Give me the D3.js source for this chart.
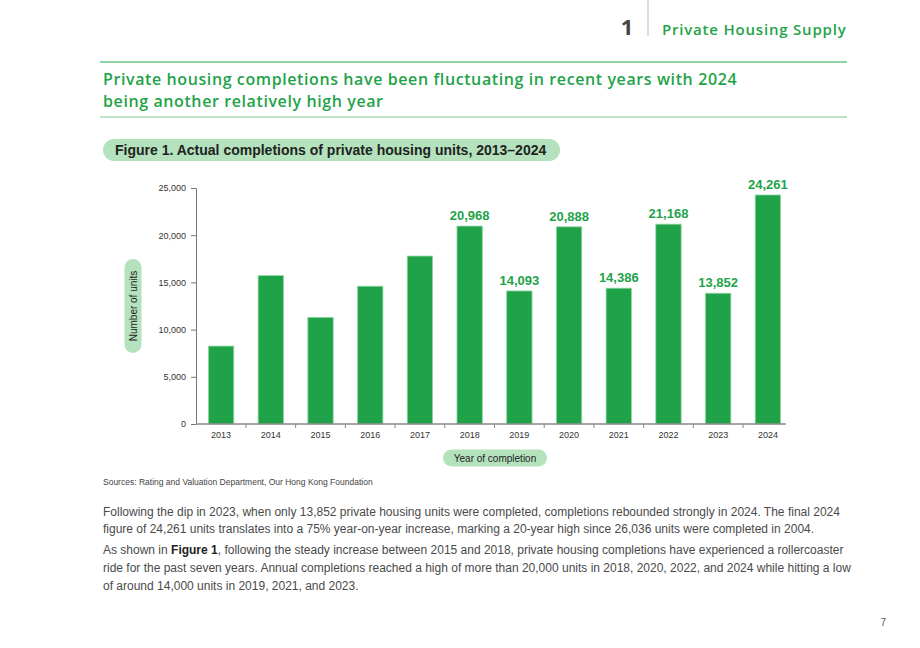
<!DOCTYPE html>
<meta charset="utf-8">
<script src="https://d3js.org/d3.v7.min.js"></script>
<style>
    body { margin: 0; background: #fff; }
    svg { display: block; }
</style>
<div id="page"></div>

<script>
    var width = 920
    var height = 648

    // data
    var years = ["2013", "2014", "2015", "2016", "2017", "2018", "2019", "2020", "2021", "2022", "2023", "2024"]
    var completions = [8254, 15719, 11296, 14595, 17791, 20968, 14093, 20888, 14386, 21168, 13852, 24261]
    var labelled = ["2018", "2019", "2020", "2021", "2022", "2023", "2024"]
    var yTicks = [0, 5000, 10000, 15000, 20000, 25000]

    var green = "#1fa349"
    var sans = "'Liberation Sans', Arial, sans-serif"
    var round = "'Open Sans', 'Noto Sans', sans-serif"

    var svg = d3.select("#page")
        .append("svg")
        .attr("width", width)
        .attr("height", height)

    // header
    svg.append("text")
        .attr("x", 627).attr("y", 35)
        .attr("text-anchor", "middle")
        .attr("font-family", round)
        .attr("font-weight", "bold")
        .attr("font-size", 22)
        .attr("fill", "#444")
        .text("1")
    svg.append("line")
        .attr("x1", 648).attr("x2", 648)
        .attr("y1", 0).attr("y2", 36)
        .attr("stroke", "#bbb")
    svg.append("text")
        .attr("x", 662).attr("y", 35)
        .attr("font-family", round)
        .attr("font-weight", 600)
        .attr("font-size", 15)
        .attr("letter-spacing", 0.8)
        .attr("fill", green)
        .text("Private Housing Supply")

    svg.append("line")
        .attr("x1", 100).attr("x2", 847)
        .attr("y1", 62).attr("y2", 62)
        .attr("stroke", green).attr("stroke-width", 1.2)
    var heading = svg.append("text")
        .attr("font-family", round)
        .attr("font-weight", 600)
        .attr("font-size", 16)
        .attr("letter-spacing", 0.6)
        .attr("fill", green)
    heading.append("tspan").attr("x", 103).attr("y", 85)
        .text("Private housing completions have been fluctuating in recent years with 2024")
    heading.append("tspan").attr("x", 103).attr("y", 107)
        .text("being another relatively high year")
    svg.append("line")
        .attr("x1", 100).attr("x2", 847)
        .attr("y1", 117).attr("y2", 117)
        .attr("stroke", "#7dc98f").attr("stroke-width", 1.2)

    // figure caption pill
    svg.append("rect")
        .attr("x", 103).attr("y", 139)
        .attr("width", 457).attr("height", 22)
        .attr("rx", 11)
        .attr("fill", "#b4e2bd")
    svg.append("text")
        .attr("x", 115).attr("y", 155)
        .attr("font-family", sans)
        .attr("font-weight", "bold")
        .attr("font-size", 14)
        .attr("fill", "#222")
        .text("Figure 1. Actual completions of private housing units, 2013\u20132024")

    // chart
    var x = d3.scaleBand()
        .domain(years)
        .range([196, 793])
        .paddingInner(0.49)
        .paddingOuter(0.25)

    var y = d3.scaleLinear()
        .domain([0, 25000])
        .range([424, 188])

    var yAxis = svg.append("g")
        .attr("transform", "translate(196,0)")
        .call(d3.axisLeft(y).tickValues(yTicks).tickSize(5).tickPadding(5).tickFormat(d3.format(",")))
    yAxis.select(".domain").attr("stroke", "#777")
    yAxis.selectAll(".tick line").attr("stroke", "#777")
    yAxis.selectAll("text")
        .attr("font-family", sans)
        .attr("font-size", 9)
        .attr("fill", "#333")

    svg.append("g")
        .selectAll("rect")
        .data(years)
        .enter()
        .append("rect")
        .attr("x", function (d) { return x(d) })
        .attr("y", function (d, i) { return y(completions[i]) })
        .attr("width", x.bandwidth())
        .attr("height", function (d, i) { return y(0) - y(completions[i]) })
        .attr("fill", "#20a348")
        .attr("stroke", "#8fd6a4")
        .attr("stroke-width", 0.8)

    svg.append("g")
        .selectAll("text")
        .data(years.filter(function (d) { return labelled.indexOf(d) >= 0 }))
        .enter()
        .append("text")
        .attr("x", function (d) { return x(d) + x.bandwidth() / 2 })
        .attr("y", function (d) { return y(completions[years.indexOf(d)]) - 6 })
        .attr("text-anchor", "middle")
        .attr("font-family", sans)
        .attr("font-weight", "bold")
        .attr("font-size", 13)
        .attr("fill", green)
        .text(function (d) { return d3.format(",")(completions[years.indexOf(d)]) })

    // x axis: ticks sit midway between bars
    var step = x.step()
    var xAxis = svg.append("g")
        .attr("transform", "translate(0,424)")
    xAxis.append("line")
        .attr("x1", 196).attr("x2", 786)
        .attr("stroke", "#888").attr("stroke-width", 1.5)
    xAxis.selectAll(".tk")
        .data(years.slice(1))
        .enter()
        .append("line")
        .attr("x1", function (d) { return x(d) - (step - x.bandwidth()) / 2 })
        .attr("x2", function (d) { return x(d) - (step - x.bandwidth()) / 2 })
        .attr("y1", 0).attr("y2", 4)
        .attr("stroke", "#888")
    xAxis.selectAll("text")
        .data(years)
        .enter()
        .append("text")
        .attr("x", function (d) { return x(d) + x.bandwidth() / 2 })
        .attr("y", 14)
        .attr("text-anchor", "middle")
        .attr("font-family", sans)
        .attr("font-size", 9)
        .attr("fill", "#333")
        .text(function (d) { return d })

    // axis title pills
    var yl = svg.append("g").attr("transform", "translate(133,306) rotate(-90)")
    yl.append("rect")
        .attr("x", -47).attr("y", -8.5)
        .attr("width", 94).attr("height", 17)
        .attr("rx", 8.5)
        .attr("fill", "#b4e2bd")
    yl.append("text")
        .attr("y", 3.5)
        .attr("text-anchor", "middle")
        .attr("font-family", sans)
        .attr("font-size", 10)
        .attr("fill", "#222")
        .text("Number of units")

    var xl = svg.append("g").attr("transform", "translate(495,458)")
    xl.append("rect")
        .attr("x", -52).attr("y", -8.5)
        .attr("width", 104).attr("height", 17)
        .attr("rx", 8.5)
        .attr("fill", "#b4e2bd")
    xl.append("text")
        .attr("y", 3.5)
        .attr("text-anchor", "middle")
        .attr("font-family", sans)
        .attr("font-size", 10)
        .attr("fill", "#222")
        .text("Year of completion")

    svg.append("text")
        .attr("x", 103).attr("y", 485)
        .attr("font-family", sans)
        .attr("font-size", 8.5)
        .attr("fill", "#444")
        .text("Sources: Rating and Valuation Department, Our Hong Kong Foundation")

    // body text
    var para = [
        { y: 516, parts: [["Following the dip in 2023, when only 13,852 private housing units were completed, completions rebounded strongly in 2024. The final 2024", false]] },
        { y: 533, parts: [["figure of 24,261 units translates into a 75% year-on-year increase, marking a 20-year high since 26,036 units were completed in 2004.", false]] },
        { y: 554, parts: [["As shown in ", false], ["Figure 1", true], [", following the steady increase between 2015 and 2018, private housing completions have experienced a rollercoaster", false]] },
        { y: 572, parts: [["ride for the past seven years. Annual completions reached a high of more than 20,000 units in 2018, 2020, 2022, and 2024 while hitting a low", false]] },
        { y: 590, parts: [["of around 14,000 units in 2019, 2021, and 2023.", false]] }
    ]
    para.forEach(function (p) {
        var t = svg.append("text")
            .attr("x", 103).attr("y", p.y)
            .attr("font-family", sans)
            .attr("font-size", 12)
            .attr("fill", "#4a4a4a")
        p.parts.forEach(function (s) {
            t.append("tspan")
                .attr("font-weight", s[1] ? "bold" : null)
                .attr("fill", s[1] ? "#222" : null)
                .text(s[0])
        })
    })

    svg.append("text")
        .attr("x", 886).attr("y", 626)
        .attr("text-anchor", "end")
        .attr("font-family", sans)
        .attr("font-size", 10)
        .attr("fill", "#555")
        .text("7")
</script>
